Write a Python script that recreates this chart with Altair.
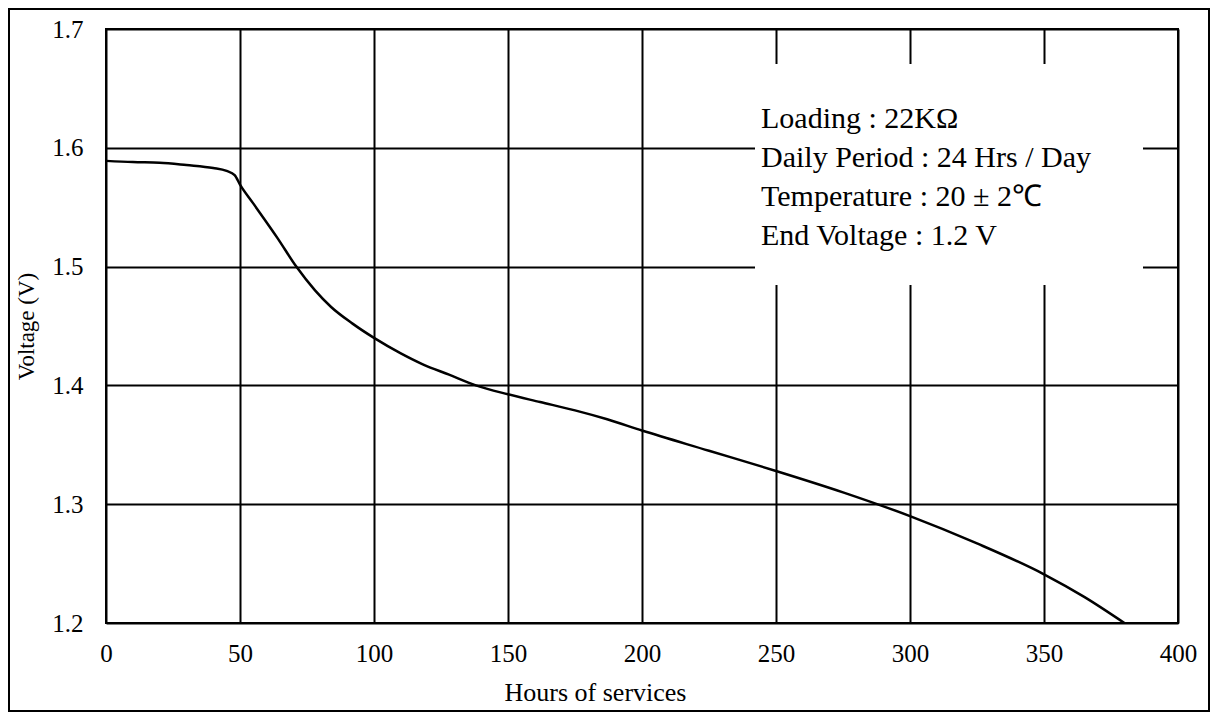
import altair as alt
import pandas as pd

# ---- data ----
hours = [0, 10, 20, 30, 40, 45, 48, 50, 55, 64, 71, 78, 84, 92, 100, 110,
         118, 128, 138, 150, 162, 175, 187, 200, 225, 250, 275, 300, 325,
         350, 365, 380]
volts = [1.589, 1.588, 1.5875, 1.5855, 1.583, 1.5805, 1.577, 1.569, 1.553,
         1.524, 1.500, 1.480, 1.466, 1.452, 1.440, 1.427, 1.418, 1.409,
         1.400, 1.3925, 1.386, 1.379, 1.3715, 1.362, 1.345, 1.328, 1.310,
         1.290, 1.267, 1.241, 1.222, 1.200]
x_ticks = [0, 50, 100, 150, 200, 250, 300, 350, 400]
y_ticks = [1.2, 1.3, 1.4, 1.5, 1.6, 1.7]
notes = ["Loading : 22KΩ",
         "Daily Period : 24 Hrs / Day",
         "Temperature : 20 ± 2℃",
         "End Voltage :  1.2 V"]

FONT = "Liberation Serif"
W, H = 1072, 594

df = pd.DataFrame({"hours": hours, "volts": volts})
one = pd.DataFrame({"k": [0]})

line = alt.Chart(df).mark_line(
    interpolate="monotone", color="black", strokeWidth=2.5
).encode(
    x=alt.X("hours:Q",
            scale=alt.Scale(domain=[0, 400], nice=False, zero=False),
            axis=alt.Axis(values=x_ticks, title="Hours of services",
                          labelFontSize=25, labelPadding=38,
                          labelBaseline="alphabetic", labelFlush=False,
                          titleX=489, titleY=77, titleAlign="center",
                          titleBaseline="alphabetic", titleFontSize=26)),
    y=alt.Y("volts:Q",
            scale=alt.Scale(domain=[1.2, 1.7], nice=False, zero=False),
            axis=alt.Axis(values=y_ticks, format=".1f", title="Voltage (V)",
                          labelFontSize=25, labelPadding=23,
                          labelBaseline="middle", labelFlush=False,
                          titleX=-80, titleY=H / 2, titleAngle=270,
                          titleAlign="center", titleBaseline="middle",
                          titleFontSize=23)),
)

box = alt.Chart(one).mark_rect(fill="white", stroke=None).encode(
    x=alt.value(649), x2=alt.value(1037), y=alt.value(35), y2=alt.value(256)
)

border = alt.Chart(one).mark_rect(
    fill="white", fillOpacity=0, stroke="black", strokeWidth=2
).encode(
    x=alt.value(-97), x2=alt.value(1103), y=alt.value(-20), y2=alt.value(682)
)

text_layers = []
for i, t in enumerate(notes):
    text_layers.append(
        alt.Chart(pd.DataFrame({"t": [t]})).mark_text(
            align="left", baseline="alphabetic", font=FONT, fontSize=30,
            color="black"
        ).encode(text="t:N", x=alt.value(655), y=alt.value(99 + 39 * i))
    )

chart = alt.layer(border, line, box, *text_layers).properties(
    width=W, height=H,
    autosize=alt.AutoSizeParams(type="none"),
    padding={"left": 98, "top": 21, "right": 32, "bottom": 89},
    background="white",
).configure_view(
    stroke="black", strokeWidth=2
).configure_axis(
    grid=True, gridColor="black", gridWidth=2, gridOpacity=1,
    domain=False, ticks=False, tickSize=0,
    labelFont=FONT, titleFont=FONT, labelColor="black", titleColor="black",
    titleFontWeight="normal",
)

chart.save("out.html", embed_options={"renderer": "svg", "actions": False})
